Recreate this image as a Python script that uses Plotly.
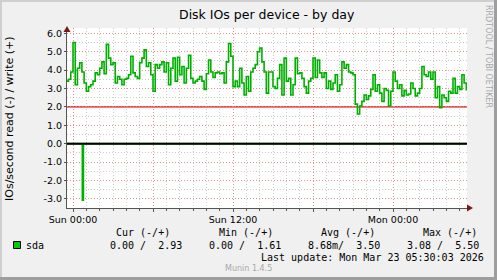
import plotly.graph_objects as go
import pandas as pd

# ---------------- data ----------------
start_time = "2026-03-21 23:30"
step = "10min"
# write (+) IOs/second, one value per 10 minutes
write_values = [
    3.4, 3.5, 3.9, 5.5, 3.2, 4.1, 4.4, 3.9, 3.3, 2.85, 3.1, 3.2, 3.4, 3.85, 3.75, 4.1,
    4.45, 3.8, 5.4, 4.65, 4.3, 4.4, 3.3, 3.65, 3.5, 3.2, 3.5, 3.55, 3.75, 4.75, 3.85,
    3.65, 3.55, 4.4, 4.65, 5.1, 4.2, 4.4, 3.75, 2.85, 4.3, 4.1, 4.3, 4.45, 3.9, 4.4, 3.2,
    4.1, 4.65, 3.4, 4.7, 3.75, 4.2, 3.3, 4.1, 4.8, 3.55, 3.3, 3.4, 3.5, 3.65, 3.4, 2.95,
    3.8, 4.55, 3.9, 3.6, 3.85, 3.9, 3.8, 3.85, 3.3, 4.45, 5.45, 4.75, 3.1, 3.4, 3.1, 4.1,
    3.3, 2.65, 3.65, 2.85, 3.9, 4.1, 4.3, 5.0, 5.2, 4.45, 3.9, 2.75, 3.9,
    3.9, 3.1, 3.0, 3.55, 4.3, 2.65, 4.65, 3.4, 3.55, 2.65, 3.2, 4.65, 3.8, 3.85, 3.55,
    3.1, 2.75, 3.4, 3.55, 4.65, 3.6, 4.55, 3.85, 3.6, 3.85, 3.0, 3.4, 2.95, 3.3, 3.75,
    2.85, 3.2, 4.45, 4.1, 4.3, 3.9, 3.85, 3.75, 2.15, 1.61, 2.05, 2.3, 2.65, 2.4, 2.6,
    2.95, 3.75, 2.85, 3.2, 2.75, 2.3, 3.0, 2.9, 2.05, 2.85, 3.9, 3.4, 3.0, 3.2, 2.6,
    2.9, 2.65, 2.7, 3.3, 3.0, 2.6, 2.75, 3.0, 4.2, 3.75, 3.65, 3.9, 3.5, 3.9, 2.5,
    3.1, 1.95, 2.65, 2.5, 2.3, 2.85, 2.75, 3.55, 2.75, 3.1, 2.95, 3.75, 3.3, 2.93,
]
# read (-) IOs/second: zero except one sample
read_times = ["2026-03-21 23:30", "2026-03-22 00:42", "2026-03-22 00:47", "2026-03-23 05:30"]
read_values = [0.0, -3.08, 0.0, 0.0]

warning_level = 2.0

x_range = ["2026-03-21 23:33", "2026-03-23 05:33"]
x_tick_times = ["2026-03-22 00:00", "2026-03-22 06:00", "2026-03-22 12:00",
                "2026-03-22 18:00", "2026-03-23 00:00"]
x_tick_labels = ["Sun 00:00", "", "Sun 12:00", "", "Mon 00:00"]
y_tick_values = [-3, -2, -1, 0, 1, 2, 3, 4, 5, 6]
y_tick_labels = ["-3.0", "-2.0", "-1.0", "0.0", "1.0", "2.0", "3.0", "4.0", "5.0", "6.0"]

title_text = "Disk IOs per device - by day"
y_title = "IOs/second read (-) / write (+)"
series_name = "sda"
legend_headers = ["Cur (-/+)", "Min (-/+)", "Avg (-/+)", "Max (-/+)"]
legend_values = ["0.00 /  2.93", "0.00 /  1.61", "8.68m/  3.50", "3.08 /  5.50"]
last_update = "Last update: Mon Mar 23 05:30:03 2026"
watermark = "RRDTOOL / TOBI OETIKER"
footer = "Munin 1.4.5"

# ---------------- geometry ----------------
W, H = 497, 280
L, R, T, B = 67, 30, 28, 72
PW, PH = W - L - R, H - T - B


def px(x):
    return (x - L) / PW


def py(y):
    return (H - B - y) / PH


GREEN = "#00B000"
SANS = "DejaVu Sans"
MONO = "DejaVu Sans Mono"

write_times = list(pd.date_range(start_time, periods=len(write_values) + 1, freq=step))
write_plot = write_values + [write_values[-1]]

fig = go.Figure()
fig.add_trace(go.Scatter(x=read_times, y=read_values, mode="lines",
                         line=dict(color=GREEN, width=1.6, shape="hv"),
                         hoverinfo="skip", showlegend=False))
fig.add_trace(go.Scatter(x=write_times, y=write_plot, mode="lines",
                         line=dict(color=GREEN, width=1.6, shape="hv"),
                         hoverinfo="skip", showlegend=False))

major_grid = "rgba(240,120,120,0.75)"
minor_grid = "rgba(170,170,170,0.6)"

fig.update_layout(
    width=W, height=H,
    margin=dict(l=L, r=R, t=T, b=B, pad=0),
    paper_bgcolor="#F0F0F0", plot_bgcolor="#FFFFFF",
    showlegend=False,
    xaxis=dict(
        type="date", range=x_range,
        tickvals=x_tick_times, ticktext=x_tick_labels,
        showgrid=True, gridcolor=major_grid, griddash="1px,2px", gridwidth=1,
        minor=dict(dtick=3600000, tick0="2026-03-22 00:00", showgrid=True,
                   gridcolor=minor_grid, griddash="1px,2px", gridwidth=1,
                   ticks="outside", ticklen=2, tickcolor="#555555"),
        showline=True, linecolor="#555555", linewidth=1,
        ticks="outside", ticklen=3, tickcolor="#555555",
        tickfont=dict(family=SANS, size=9.5, color="#000000"),
        zeroline=False, fixedrange=True,
    ),
    yaxis=dict(
        range=[-3.5, 6.29],
        tickvals=y_tick_values, ticktext=y_tick_labels,
        showgrid=True, gridcolor=major_grid, griddash="1px,2px", gridwidth=1,
        minor=dict(dtick=0.5, tick0=0, showgrid=True,
                   gridcolor=minor_grid, griddash="1px,2px", gridwidth=1),
        showline=True, linecolor="#555555", linewidth=1,
        ticks="outside", ticklen=2, tickcolor="#555555",
        tickfont=dict(family=SANS, size=9.5, color="#000000"),
        zeroline=False, fixedrange=True,
    ),
)

shapes = []
# zero line (black) on top of data
shapes.append(dict(type="line", xref="paper", x0=0, x1=1, yref="y", y0=0, y1=0,
                   line=dict(color="#000000", width=2), layer="above"))
# warning line
shapes.append(dict(type="line", xref="paper", x0=0, x1=1, yref="y",
                   y0=warning_level, y1=warning_level,
                   line=dict(color="#E00000", width=1.2), layer="below"))
# axis arrows
ARROW = "#7A1A1A"
shapes.append(dict(type="path", xref="paper", yref="paper",
                   path=f"M {px(63.5)} {py(32)} L {px(70.5)} {py(32)} L {px(67)} {py(26)} Z",
                   fillcolor=ARROW, line=dict(width=0), layer="above"))
shapes.append(dict(type="path", xref="paper", yref="paper",
                   path=f"M {px(467)} {py(204.5)} L {px(467)} {py(211.5)} L {px(473)} {py(208)} Z",
                   fillcolor=ARROW, line=dict(width=0), layer="above"))
# frame shading
shapes.append(dict(type="rect", xref="paper", yref="paper",
                   x0=px(0), x1=px(W), y0=py(0), y1=py(2),
                   fillcolor="#CFCFCF", line=dict(width=0), layer="below"))
shapes.append(dict(type="rect", xref="paper", yref="paper",
                   x0=px(0), x1=px(2), y0=py(0), y1=py(H),
                   fillcolor="#CFCFCF", line=dict(width=0), layer="below"))
shapes.append(dict(type="rect", xref="paper", yref="paper",
                   x0=px(W - 3), x1=px(W), y0=py(0), y1=py(H),
                   fillcolor="#9E9E9E", line=dict(width=0), layer="below"))
shapes.append(dict(type="rect", xref="paper", yref="paper",
                   x0=px(0), x1=px(W), y0=py(H - 3), y1=py(H),
                   fillcolor="#9E9E9E", line=dict(width=0), layer="below"))
# legend swatch
shapes.append(dict(type="rect", xref="paper", yref="paper",
                   x0=px(13.5), x1=px(20.5), y0=py(248.5), y1=py(241.5),
                   fillcolor="#00CC00", line=dict(color="#000000", width=1), layer="above"))
fig.update_layout(shapes=shapes)


def text(t, x, y, size, family=SANS, color="#000000", xanchor="left", angle=0):
    fig.add_annotation(text=t, x=px(x), y=py(y), xref="paper", yref="paper",
                       xanchor=xanchor, yanchor="middle", showarrow=False,
                       textangle=angle, borderpad=0, borderwidth=0,
                       font=dict(family=family, size=size, color=color))


text(title_text, 267, 14, 12.5, xanchor="center")
text(y_title, 9, 119, 11, xanchor="center", angle=-90)
text(watermark, 488.5, 56.5, 8, color="#A8A8A8", xanchor="center", angle=90)

text(series_name, 26, 245, 10, family=MONO)
header_x = [116, 219.3, 321, 422.6]
value_x = [110, 209.3, 307.6, 406.6]
for hx, h in zip(header_x, legend_headers):
    text(h, hx, 232.5, 10, family=MONO)
for vx, v in zip(value_x, legend_values):
    text(v, vx, 245, 10, family=MONO)
text(last_update, 484, 257, 10, family=MONO, xanchor="right")
text(footer, 248.5, 268.5, 8, color="#A8A8A8", xanchor="center")

fig.write_html("out.html", config={"displayModeBar": False})
